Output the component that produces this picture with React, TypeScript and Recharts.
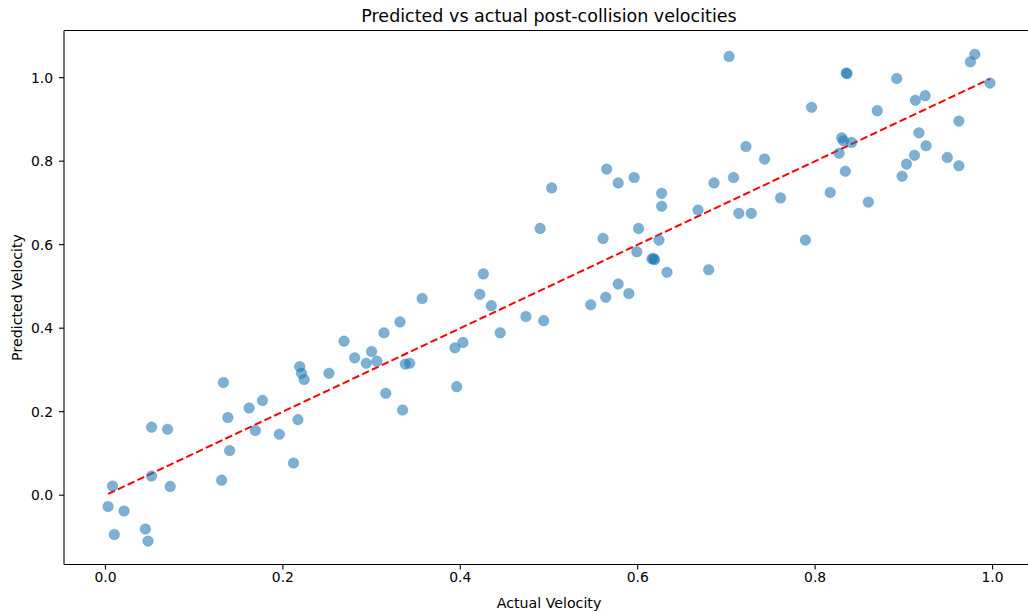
import React from 'react';
import {
  ScatterChart,
  Scatter,
  XAxis,
  YAxis,
  ReferenceLine,
} from 'recharts';

const actualVelocity: number[] = [
  0.003, 0.008, 0.010, 0.021, 0.045, 0.048, 0.052, 0.052, 0.070, 0.073,
  0.131, 0.133, 0.138, 0.140, 0.162, 0.169, 0.177, 0.196, 0.212, 0.217,
  0.219, 0.221, 0.224, 0.252, 0.269, 0.281, 0.294, 0.300, 0.306, 0.314,
  0.316, 0.332, 0.335, 0.338, 0.343, 0.357, 0.394, 0.396, 0.403, 0.422,
  0.426, 0.435, 0.445, 0.474, 0.490, 0.494, 0.503, 0.547, 0.561, 0.564,
  0.565, 0.578, 0.578, 0.590, 0.596, 0.599, 0.601, 0.616, 0.619, 0.618,
  0.624, 0.627, 0.627, 0.633, 0.668, 0.680, 0.686, 0.703, 0.708, 0.714,
  0.722, 0.728, 0.743, 0.761, 0.789, 0.796, 0.817, 0.827, 0.830, 0.832,
  0.834, 0.835, 0.836, 0.841, 0.860, 0.870, 0.892, 0.898, 0.903, 0.912,
  0.913, 0.917, 0.924, 0.925, 0.949, 0.962, 0.962, 0.975, 0.980, 0.997,
];

const predictedVelocity: number[] = [
  -0.027, 0.022, -0.094, -0.038, -0.081, -0.110, 0.163, 0.046, 0.158, 0.021,
  0.036, 0.270, 0.186, 0.107, 0.209, 0.155, 0.227, 0.146, 0.077, 0.181,
  0.308, 0.292, 0.277, 0.292, 0.369, 0.329, 0.316, 0.344, 0.321, 0.389,
  0.244, 0.415, 0.204, 0.314, 0.316, 0.471, 0.353, 0.260, 0.366, 0.481,
  0.530, 0.454, 0.389, 0.428, 0.639, 0.418, 0.736, 0.456, 0.615, 0.474,
  0.781, 0.506, 0.748, 0.483, 0.761, 0.583, 0.639, 0.566, 0.564, 0.567,
  0.611, 0.723, 0.692, 0.534, 0.683, 0.540, 0.748, 1.051, 0.761, 0.675,
  0.835, 0.675, 0.805, 0.712, 0.611, 0.929, 0.725, 0.819, 0.856, 0.849,
  0.776, 1.011, 1.010, 0.845, 0.702, 0.921, 0.998, 0.764, 0.793, 0.814,
  0.946, 0.868, 0.957, 0.837, 0.809, 0.896, 0.789, 1.038, 1.056, 0.987,
];

const xTicks: number[] = [0, 0.2, 0.4, 0.6, 0.8, 1.0];
const yTicks: number[] = [0, 0.2, 0.4, 0.6, 0.8, 1.0];

const X_DOMAIN: [number, number] = [-0.0467, 1.0467];
const Y_DOMAIN: [number, number] = [-0.166, 1.113];

const points = actualVelocity.map((a, i) => ({ actual: a, predicted: predictedVelocity[i] }));
const lineMin = Math.min(...actualVelocity);
const lineMax = Math.max(...actualVelocity);

const FONT = '"DejaVu Sans", sans-serif';

const Dot = (props: any) => {
  const { cx, cy } = props;
  if (cx == null || cy == null) return null;
  return <circle cx={cx} cy={cy} r={5.3} fill="#1f77b4" fillOpacity={0.58} stroke="#1f77b4" strokeOpacity={0.35} strokeWidth={0.8} />;
};

const fmt = (v: number) => v.toFixed(1);

export default function App() {
  return (
    <div style={{ position: 'absolute', left: 0, top: 0, width: 1028, height: 612, overflow: 'hidden', background: '#fff', fontFamily: FONT }}>
      <div
        style={{
          position: 'absolute',
          left: 64,
          width: 970,
          top: 5.7,
          textAlign: 'center',
          fontSize: 17.5,
          lineHeight: '20px',
          color: '#000',
          fontFamily: FONT,
          whiteSpace: 'nowrap',
        }}
      >
        Predicted vs actual post-collision velocities
      </div>
      <ScatterChart
        width={1040}
        height={612}
        margin={{ top: 30.5, right: 6, bottom: 0, left: 0 }}
        style={{ fontFamily: FONT }}
      >
        <XAxis
          type="number"
          dataKey="actual"
          domain={X_DOMAIN}
          allowDataOverflow
          ticks={xTicks}
          tickFormatter={fmt}
          height={47.5}
          tickSize={5}
          tickMargin={3}
          axisLine={{ stroke: '#000', strokeWidth: 1.1 }}
          tickLine={{ stroke: '#000', strokeWidth: 1.1 }}
          tick={{ fill: '#000', fontSize: 13.9, fontFamily: FONT }}
          label={{ value: 'Actual Velocity', position: 'insideBottom', offset: 4, fill: '#000', fontSize: 14.2, fontFamily: FONT }}
        />
        <YAxis
          type="number"
          dataKey="predicted"
          domain={Y_DOMAIN}
          allowDataOverflow
          ticks={yTicks}
          tickFormatter={fmt}
          width={64}
          tickSize={5}
          tickMargin={6}
          axisLine={{ stroke: '#000', strokeWidth: 1.1 }}
          tickLine={{ stroke: '#000', strokeWidth: 1.1 }}
          tick={{ fill: '#000', fontSize: 13.9, fontFamily: FONT }}
          label={{
            content: (p: any) => {
              const vb = p.viewBox || { x: 0, y: 30.5, width: 64, height: 534 };
              const cy = vb.y + vb.height / 2;
              const cx = 17;
              return (
                <text
                  x={cx}
                  y={cy}
                  transform={`rotate(-90 ${cx} ${cy})`}
                  textAnchor="middle"
                  dominantBaseline="central"
                  fill="#000"
                  fontSize={14.2}
                  fontFamily={FONT}
                >
                  Predicted Velocity
                </text>
              );
            },
          }}
        />
        <ReferenceLine y={Y_DOMAIN[1]} stroke="#000" strokeWidth={1.1} ifOverflow="extendDomain" />
        <Scatter data={points} shape={<Dot />} isAnimationActive={false} />
        <ReferenceLine
          segment={[
            { x: lineMin, y: lineMin },
            { x: lineMax, y: lineMax },
          ]}
          stroke="#ff0000"
          strokeWidth={2}
          strokeDasharray="7.5 3.3"
          ifOverflow="visible"
        />
      </ScatterChart>
    </div>
  );
}
